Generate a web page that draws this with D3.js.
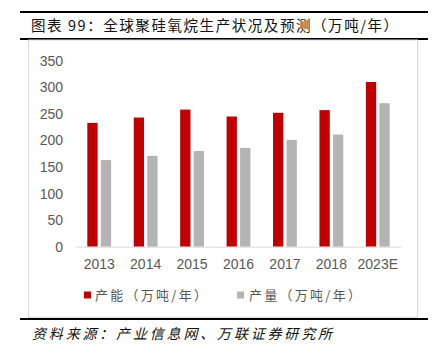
<!DOCTYPE html>
<html>
<head>
<meta charset="utf-8">
<script src="https://cdn.jsdelivr.net/npm/d3@7"></script>
<style>
  html, body { margin: 0; padding: 0; background: #fff; }
  svg { display: block; }
</style>
</head>
<body>
<svg id="chart" width="432" height="356"></svg>
<script>
const categories = ["2013", "2014", "2015", "2016", "2017", "2018", "2023E"];
const capacity = [233, 243, 258, 245, 252, 257, 310];
const output = [163, 171, 180, 186, 201, 211, 270];
const seriesNames = ["产能（万吨/年）", "产量（万吨/年）"];
const yTicks = [0, 50, 100, 150, 200, 250, 300, 350];
const titleText = "图表 99：全球聚硅氧烷生产状况及预测（万吨/年）";
const sourceText = "资料来源：产业信息网、万联证券研究所";

const colors = ["#C00000", "#B4B4B4"];
const svg = d3.select("#chart");
const cjk = "'Noto Sans CJK SC', 'Noto Sans', sans-serif";
const latin = "'Liberation Sans', Arial, sans-serif";

// header rules
svg.append("rect").attr("x", 20).attr("y", 11).attr("width", 408).attr("height", 2).attr("fill", "#000");
svg.append("rect").attr("x", 20).attr("y", 38).attr("width", 408).attr("height", 2).attr("fill", "#000");
svg.append("rect").attr("x", 20).attr("y", 318).attr("width", 408).attr("height", 2).attr("fill", "#000");

// chart frame
svg.append("rect").attr("x", 28.5).attr("y", 40).attr("width", 389).attr("height", 277.5)
  .attr("fill", "none").attr("stroke", "#D9D9D9").attr("stroke-width", 1);

svg.append("text").attr("x", 31).attr("y", 31)
  .attr("font-family", cjk).attr("font-size", 14.5).attr("fill", "#111")
  .attr("textLength", 367).attr("lengthAdjust", "spacing")
  .text(titleText);

svg.append("text").attr("x", 32).attr("y", 339)
  .attr("font-family", cjk).attr("font-size", 14).attr("font-style", "italic").attr("fill", "#111")
  .attr("transform", "skewX(0)")
  .attr("textLength", 300).attr("lengthAdjust", "spacing")
  .text(sourceText);

const plotLeft = 76, plotRight = 401, plotTop = 60.7, plotBottom = 246.7;
const x = d3.scaleBand().domain(categories).range([plotLeft, plotRight]).paddingInner(0).paddingOuter(0);
const y = d3.scaleLinear().domain([0, 350]).range([plotBottom, plotTop]);
const barW = 10.3, gap = 3.2;

// y axis labels
const yAxis = d3.axisLeft(y).tickValues(yTicks).tickSize(0).tickPadding(0);
const yg = svg.append("g").attr("transform", `translate(63,0)`).call(yAxis);
yg.select(".domain").remove();
yg.selectAll("text").attr("font-family", latin).attr("font-size", 14).attr("fill", "#595959");

// bars
const g = svg.append("g");
categories.forEach((c, i) => {
  const cx = x(c) + x.bandwidth() / 2;
  [capacity[i], output[i]].forEach((v, s) => {
    const bx = s === 0 ? cx - gap / 2 - barW : cx + gap / 2;
    g.append("rect").attr("x", bx).attr("y", y(v)).attr("width", barW)
      .attr("height", y(0) - y(v)).attr("fill", colors[s]);
  });
});

// x axis
const xAxis = d3.axisBottom(x).tickSize(0).tickPadding(12);
const xg = svg.append("g").attr("transform", `translate(0,${plotBottom})`).call(xAxis);
xg.select(".domain").attr("stroke", "#D9D9D9").attr("stroke-width", 1);
xg.selectAll("text").attr("font-family", latin).attr("font-size", 14).attr("fill", "#595959");

// legend
const legendItems = [{x: 84, tx: 95}, {x: 237, tx: 249}];
legendItems.forEach((l, i) => {
  svg.append("rect").attr("x", l.x).attr("y", 291.5).attr("width", 7).attr("height", 7).attr("fill", colors[i]);
  svg.append("text").attr("x", l.tx).attr("y", 300)
    .attr("font-family", cjk).attr("font-size", 13).attr("fill", "#595959")
    .attr("textLength", 112).attr("lengthAdjust", "spacing")
    .text(seriesNames[i]);
});
</script>
</body>
</html>
